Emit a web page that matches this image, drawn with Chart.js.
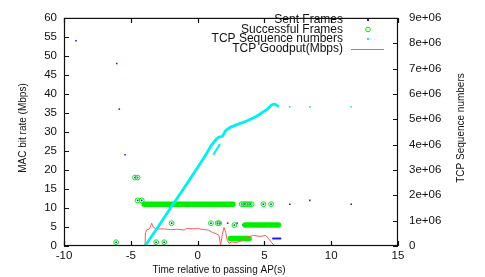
<!DOCTYPE html>
<html><head><meta charset="utf-8">
<script src="https://cdn.jsdelivr.net/npm/chart.js@4.4.0/dist/chart.umd.min.js"></script>
<style>html,body{margin:0;padding:0;background:#fff;}</style>
</head><body>
<canvas id="c" width="485" height="277"></canvas>
<script>
// ---- Data ----
const seriesNames = ['Sent Frames', 'Successful Frames', 'TCP Sequence numbers', 'TCP Goodput(Mbps)'];
const xTitle = 'Time relative to passing AP(s)';
const yTitle = 'MAC bit rate (Mbps)';
const y2Title = 'TCP Sequence numbers';

// Sent frames (individual)
const sentTime = [-9.1, -6.05, -5.86, -5.43, -4.69, -4.49, -4.49, -4.18, -6.1, -3.1, -2.5, -1.94, 1.0, 1.5, 1.68, 2.25, 2.75, 2.95, 3.42, 2.72, 3.3, 3.5, 3.75, 3.95, 4.92, 5.5, 6.9, 8.4, 11.5];
const sentRate = [54, 48, 36, 24, 18, 18, 12, 12, 1, 1, 1, 6, 6, 6, 6, 6, 5.5, 6, 5.5, 11, 11, 11, 11, 11, 11, 11, 11, 12, 11];
// Sent frames (dense runs)
const sentRunStart = [-4.0, 3.42, 2.45, 5.65];
const sentRunEnd = [2.72, 6.05, 3.85, 6.2];
const sentRunRate = [11, 5.5, 2, 2];

// Successful frames (individual)
const okTime = [-4.69, -4.49, -4.49, -4.18, -6.1, -3.1, -2.5, -1.94, 1.0, 1.5, 1.62, 2.75, 3.3, 3.45, 3.6, 3.75, 3.9, 4.05, 4.92, 5.5];
const okRate = [18, 18, 12, 12, 1, 1, 1, 6, 6, 6, 6, 5.5, 11, 11, 11, 11, 11, 11, 11, 11];
// Successful frames (dense runs)
const okRunStart = [-4.0, 3.55, 2.45];
const okRunEnd = [2.65, 6.05, 3.85];
const okRunRate = [11, 5.5, 2];

// TCP sequence numbers (main trace)
const seqTime = [-3.94, -3.0, -2.0, -1.0, 0.0, 0.5, 1.0, 1.4, 1.6, 1.85, 2.1, 2.43, 3.0, 3.68, 4.42, 5.17, 5.55, 5.79, 6.09];
const seqValue = [0, 720000, 1520000, 2300000, 3100000, 3500000, 3950000, 4220000, 4300000, 4330000, 4550000, 4680000, 4800000, 4930000, 5120000, 5380000, 5570000, 5600000, 5500000];
// TCP sequence numbers (retransmitted branch)
const seqBranchTime = [1.17, 1.68];
const seqBranchValue = [3600000, 4020000];
// TCP sequence numbers (isolated)
const seqDotTime = [6.9, 8.4, 11.5, -9.0, -5.5, -5.2];
const seqDotValue = [5490000, 5490000, 5490000, 0, 0, 0];

// TCP goodput (Mbps)
const gpTime = [-3.94, -3.9, -3.8, -3.6, -3.44, -3.3, -3.1, -2.5, -2.0, -1.5, -1.0, -0.8, -0.6, -0.3, 0.0, 0.5, 0.8, 1.1, 1.4, 1.6, 1.72, 1.85, 1.98, 2.1, 2.22, 2.35, 2.55, 2.9, 3.42, 3.8, 4.2, 4.7, 5.1, 5.3, 5.55, 5.8];
const gpRate = [0, 3.5, 4.3, 4.5, 6.0, 4.9, 4.5, 4.5, 4.3, 4.4, 4.2, 4.65, 4.6, 4.5, 4.6, 4.3, 4.2, 3.6, 3.2, 2.8, 0.2, 3.0, 4.9, 3.6, 1.5, 0.7, 1.1, 0.9, 1.5, 2.4, 2.8, 2.5, 2.8, 2.0, 0.85, 0];

// Axis ranges / ticks
const xMin = -10, xMax = 15, xStep = 5;
const yMin = 0, yMax = 60, yStep = 5;
const y2Min = 0, y2Max = 9000000, y2Step = 1000000;

// ---- Build datasets ----
const zip = (xs, ys) => xs.map((x, i) => ({x: x, y: ys[i]}));
const runs = (s, e, r) => { const out = []; s.forEach((v, i) => { out.push({x: v, y: r[i]}, {x: e[i], y: r[i]}, {x: e[i], y: null}); }); return out; };

const BLUE = '#1a1aff', GREEN = '#00ee00', CYAN = '#00f0f0', RED = '#ff5a5a';
const FONT = 'Liberation Sans, Arial, sans-serif';

const overlay = {
  id: 'overlay',
  afterDraw(chart) {
    const ctx = chart.ctx, a = chart.chartArea;
    const sx = chart.scales.x, sy = chart.scales.y, sy2 = chart.scales.y2;
    ctx.save();
    ctx.strokeStyle = '#111';
    ctx.lineWidth = 1.2;
    ctx.strokeRect(a.left + 0.5, a.top + 0.5, a.right - a.left - 1, a.bottom - a.top - 1);
    const tl = 5;
    ctx.beginPath();
    sx.ticks.forEach(t => { const p = Math.round(sx.getPixelForValue(t.value)) + 0.5; ctx.moveTo(p, a.bottom); ctx.lineTo(p, a.bottom - tl); ctx.moveTo(p, a.top); ctx.lineTo(p, a.top + tl); });
    sy.ticks.forEach(t => { const p = Math.round(sy.getPixelForValue(t.value)) + 0.5; ctx.moveTo(a.left, p); ctx.lineTo(a.left + tl, p); });
    sy2.ticks.forEach(t => { const p = Math.round(sy2.getPixelForValue(t.value)) + 0.5; ctx.moveTo(a.right, p); ctx.lineTo(a.right - tl, p); });
    ctx.stroke();

    // Legend (text right-aligned, sample to the right)
    ctx.fillStyle = '#111';
    ctx.font = '12px ' + FONT;
    ctx.textAlign = 'right';
    ctx.textBaseline = 'middle';
    const ly = [20, 29.5, 39, 49];
    const tx = 343, sxp = 368;
    seriesNames.forEach((n, i) => ctx.fillText(n, tx, ly[i]));
    ctx.fillStyle = BLUE; ctx.fillRect(sxp - 1, ly[0] - 1, 2, 2);
    ctx.strokeStyle = GREEN; ctx.lineWidth = 1; ctx.beginPath(); ctx.arc(sxp, ly[1], 2.3, 0, Math.PI * 2); ctx.stroke();
    ctx.fillStyle = CYAN; ctx.fillRect(sxp - 1, ly[2] - 1, 2, 2);
    ctx.strokeStyle = RED; ctx.lineWidth = 1; ctx.beginPath(); ctx.moveTo(351, ly[3] + 0.5); ctx.lineTo(384, ly[3] + 0.5); ctx.stroke();

    // Axis titles
    ctx.fillStyle = '#111';
    ctx.font = '10px ' + FONT;
    ctx.textAlign = 'center';
    ctx.textBaseline = 'middle';
    ctx.fillText(xTitle, 219, 270);
    ctx.save(); ctx.translate(23, 128); ctx.rotate(-Math.PI / 2); ctx.fillText(yTitle, 0, 0); ctx.restore();
    ctx.save(); ctx.translate(461, 128); ctx.rotate(-Math.PI / 2); ctx.fillText(y2Title, 0, 0); ctx.restore();
    ctx.restore();
  }
};

new Chart(document.getElementById('c'), {
  type: 'scatter',
  data: {
    datasets: [
      { label: seriesNames[0] + ' runs', type: 'line', data: runs(sentRunStart, sentRunEnd, sentRunRate), yAxisID: 'y', borderColor: BLUE, borderWidth: 2, pointRadius: 0, spanGaps: false, borderCapStyle: 'round', order: 8 },
      { label: seriesNames[0], data: zip(sentTime, sentRate), yAxisID: 'y', pointStyle: 'rect', pointRadius: 1.1, backgroundColor: BLUE, borderColor: BLUE, borderWidth: 0, order: 7 },
      { label: seriesNames[1] + ' runs', type: 'line', data: runs(okRunStart, okRunEnd, okRunRate), yAxisID: 'y', borderColor: GREEN, borderWidth: 5.5, pointRadius: 0, spanGaps: false, borderCapStyle: 'round', order: 6 },
      { label: seriesNames[1], data: zip(okTime, okRate), yAxisID: 'y', pointStyle: 'circle', pointRadius: 2.4, backgroundColor: 'rgba(0,0,0,0)', borderColor: GREEN, borderWidth: 1, order: 5 },
      { label: seriesNames[2], type: 'line', data: zip(seqTime, seqValue), yAxisID: 'y2', borderColor: CYAN, borderWidth: 2.8, pointRadius: 0, tension: 0, borderJoinStyle: 'round', order: 3 },
      { label: seriesNames[2] + ' branch', type: 'line', data: zip(seqBranchTime, seqBranchValue), yAxisID: 'y2', borderColor: CYAN, borderWidth: 2, pointRadius: 0, order: 3 },
      { label: seriesNames[2] + ' dots', data: zip(seqDotTime, seqDotValue), yAxisID: 'y2', pointStyle: 'rect', pointRadius: 1.1, backgroundColor: CYAN, borderWidth: 0, order: 3 },
      { label: seriesNames[3], type: 'line', data: zip(gpTime, gpRate), yAxisID: 'y', borderColor: RED, borderWidth: 1, pointRadius: 0, tension: 0, order: 4 }
    ]
  },
  options: {
    responsive: false,
    animation: false,
    devicePixelRatio: 1,
    layout: { padding: { top: 10, left: 0, right: 0, bottom: 0 } },
    plugins: { legend: { display: false }, tooltip: { enabled: false } },
    scales: {
      x: {
        type: 'linear', position: 'bottom', min: xMin, max: xMax,
        ticks: { stepSize: xStep, color: '#111', font: { family: FONT, size: 11.5 }, padding: 3, maxRotation: 0 },
        grid: { display: false, drawTicks: false }, border: { display: false },
        afterFit(s) { s.height = 31; }
      },
      y: {
        type: 'linear', position: 'left', min: yMin, max: yMax,
        ticks: { stepSize: yStep, color: '#111', font: { family: FONT, size: 11.5 }, padding: 7 },
        grid: { display: false, drawTicks: false }, border: { display: false },
        afterFit(s) { s.width = 64; }
      },
      y2: {
        type: 'linear', position: 'right', min: y2Min, max: y2Max,
        ticks: { stepSize: y2Step, color: '#111', font: { family: FONT, size: 11.5 }, padding: 11,
          callback: v => v === 0 ? '0' : (v / 1e6) + 'e+06' },
        grid: { display: false, drawTicks: false }, border: { display: false },
        afterFit(s) { s.width = 87; }
      }
    }
  },
  plugins: [overlay]
});
</script>
</body></html>
